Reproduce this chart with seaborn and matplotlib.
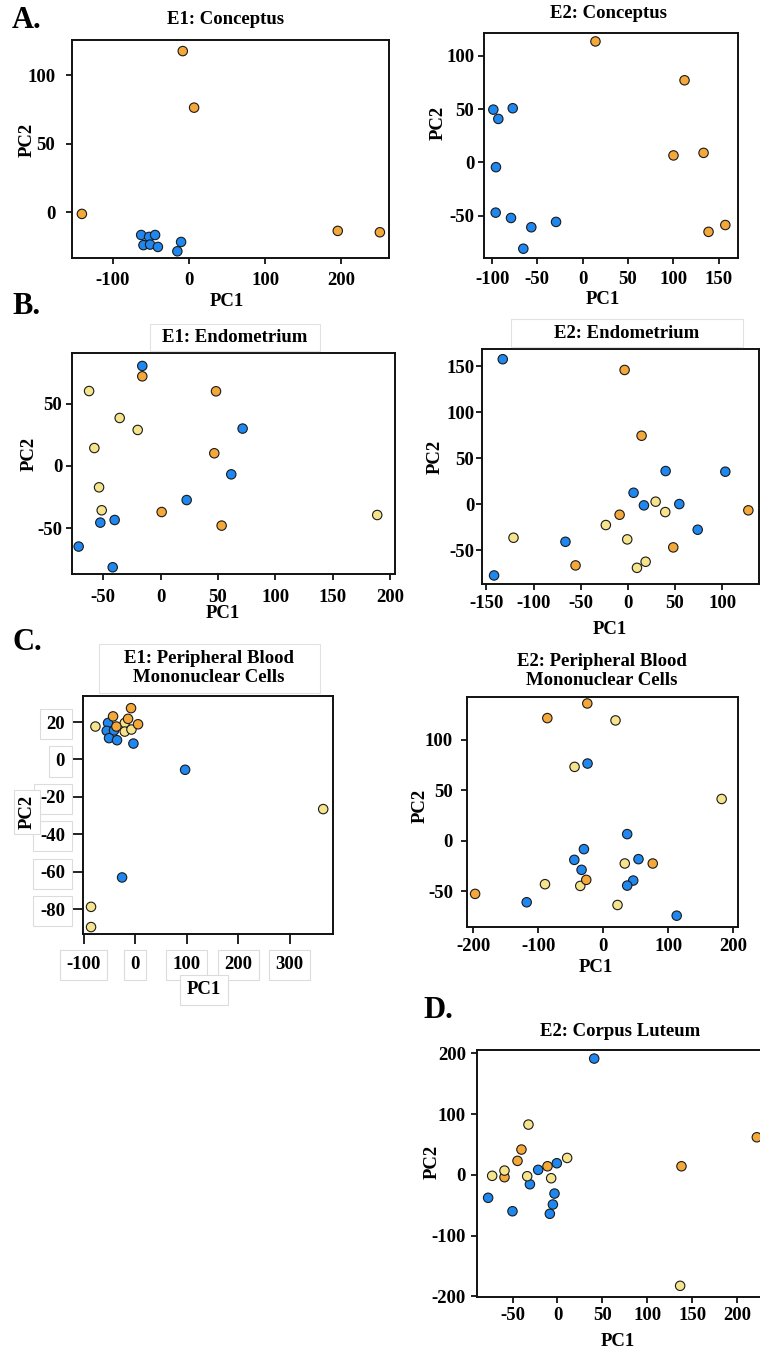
import pandas as pd
import matplotlib.pyplot as plt
from matplotlib.patches import Rectangle
import seaborn as sns

# Figure size in pixels (saved at dpi 100)
W, H = 760, 1354

# ---- data (PC1 / PC2 scores, group per sample) ----
# G1 = blue, G2 = pale yellow, G3 = orange

# A. E1: Conceptus
A1_PC1 = [-63, -52.6, -44.7, -60, -51.3, -41, -10.5, -15.4,
          -8.3, 6.6, -141, 195.6, 251]
A1_PC2 = [-16.6, -18, -16.6, -24, -23.6, -25.3, -21.7, -28.5,
          117.7, 76.4, -1.2, -13.6, -14.6]
A1_GRP = ['G1', 'G1', 'G1', 'G1', 'G1', 'G1', 'G1', 'G1',
          'G3', 'G3', 'G3', 'G3', 'G3']

# A. E2: Conceptus
A2_PC1 = [-98.6, -93.1, -77.2, -95.7, -96, -79.1, -56.7, -29.4, -65.5,
          14.1, 112.4, 100.2, 133.4, 138.9, 157.4]
A2_PC2 = [49.5, 40.8, 50.8, -4.4, -47, -52, -60.7, -55.7, -80.8,
          113.4, 77, 6.6, 9, -65, -58.6]
A2_GRP = ['G1', 'G1', 'G1', 'G1', 'G1', 'G1', 'G1', 'G1', 'G1',
          'G3', 'G3', 'G3', 'G3', 'G3', 'G3']

# B. E1: Endometrium
B1_PC1 = [-16, 71.5, 61.6, 22.7, -40.1, -52.6, -71.5, -41.8,
          -62.4, -35.7, -20, -57.8, -53.7, -51.4, 188.9,
          -16, 48.3, 46.8, 0.9, 53.2]
B1_PC2 = [80.2, 30, -6.7, -27.3, -43.3, -45.4, -64.6, -81.2,
          60.1, 38.5, 28.9, 14.4, -17.1, -35.5, -39.3,
          71.9, 59.9, 10.2, -36.9, -47.8]
B1_GRP = ['G1', 'G1', 'G1', 'G1', 'G1', 'G1', 'G1', 'G1',
          'G2', 'G2', 'G2', 'G2', 'G2', 'G2', 'G2',
          'G3', 'G3', 'G3', 'G3', 'G3']

# B. E2: Endometrium
B2_PC1 = [-132.7, -141.9, -66.2, 6, 17, 40, 54.5, 74, 103.3,
          -121.3, -23.4, -0.7, 29.4, 39.6, 9.6, 18.8,
          -3.5, 14.5, -8.8, -55.5, 48.1, 127.7]
B2_PC2 = [157.8, -77.3, -40.7, 12.6, -1.1, 36.2, 0.3, -27.6, 35.5,
          -36.3, -22.5, -38.1, 2.9, -8.4, -69, -62.4,
          146.1, 74.6, -11.3, -66.4, -46.8, -6.5]
B2_GRP = ['G1', 'G1', 'G1', 'G1', 'G1', 'G1', 'G1', 'G1', 'G1',
          'G2', 'G2', 'G2', 'G2', 'G2', 'G2', 'G2',
          'G3', 'G3', 'G3', 'G3', 'G3', 'G3']

# C. E1: PBMC
C1_PC1 = [-52.4, -55, -40.8, -50.5, -35, -3.2, 97.1, -25.2,
          -76.9, -20, -20, -7, 365, -85.4, -85.4,
          -42.7, -36.2, -7.8, -13.6, 5.8]
C1_PC2 = [19.5, 15.3, 15.5, 11.4, 10.3, 8.5, -5.5, -63,
          17.6, 19.5, 14.9, 16, -26.5, -78.7, -89.5,
          23, 17.6, 27.4, 21.7, 18.8]
C1_GRP = ['G1', 'G1', 'G1', 'G1', 'G1', 'G1', 'G1', 'G1',
          'G2', 'G2', 'G2', 'G2', 'G2', 'G2', 'G2',
          'G3', 'G3', 'G3', 'G3', 'G3']

# C. E2: PBMC
C2_PC1 = [-24.2, 36.9, -29.8, -44.6, -33.4, 54.3, 46.2, 36.9, -118, 113.2,
          18.9, -44.2, 182.5, -89.8, -35.4, 33.2, 22,
          -24.6, -86.2, -197.5, 76.3, -26.2]
C2_PC2 = [76.5, 6.6, -8.3, -18.9, -28.8, -18.2, -39.4, -44.4, -60.9, -74.2,
          119.2, 73.2, 41.4, -43, -44.7, -22.5, -63.6,
          136, 121.5, -52.6, -22.5, -38.7]
C2_GRP = ['G1', 'G1', 'G1', 'G1', 'G1', 'G1', 'G1', 'G1', 'G1', 'G1',
          'G2', 'G2', 'G2', 'G2', 'G2', 'G2', 'G2',
          'G3', 'G3', 'G3', 'G3', 'G3']

# D. E2: Corpus Luteum
D_PC1 = [40.9, -77.2, -50.1, -30.7, -21.5, -0.7, -3.3, -5.1, -8.5,
         222, 138.1, -40.1, -44.5, -11.1, -59,
         -32.3, 10.8, -59, -72.7, -33.7, -7, 136.6]
D_PC2 = [191.3, -37.8, -59.9, -15.5, 8.2, 19.1, -30.8, -48.8, -64.1,
         61.8, 14.1, 41.6, 23, 14.1, -3.9,
         82.7, 27.8, 7, -1.6, -2.3, -5.6, -182.6]
D_GRP = ['G1', 'G1', 'G1', 'G1', 'G1', 'G1', 'G1', 'G1', 'G1',
         'G3', 'G3', 'G3', 'G3', 'G3', 'G3',
         'G2', 'G2', 'G2', 'G2', 'G2', 'G2', 'G2']

PAL = {'G1': '#1E88F0', 'G2': '#F6E48C', 'G3': '#F4A83A'}

sns.set_style('ticks')
plt.rcParams['font.family'] = ['Liberation Serif', 'DejaVu Serif']
plt.rcParams['font.weight'] = 'bold'
plt.rcParams['axes.labelweight'] = 'bold'
plt.rcParams['axes.unicode_minus'] = False
plt.rcParams['text.color'] = 'black'
plt.rcParams['axes.labelcolor'] = 'black'
plt.rcParams['xtick.labelcolor'] = 'black'
plt.rcParams['ytick.labelcolor'] = 'black'

FS = 13.5
fig = plt.figure(figsize=(W / 100, H / 100), dpi=100)


def fx(px):
    return px / W


def fy(py):
    return 1 - py / H


def panel(rect, pc1, pc2, grp, xlim, ylim, xticks, yticks,
          xpad=4, ypad=3, tlen=4, xl=None, yl=None):
    l, t, r, b = rect
    ax = fig.add_axes([l / W, 1 - b / H, (r - l) / W, (b - t) / H])
    df = pd.DataFrame({'PC1': pc1, 'PC2': pc2, 'Group': grp})
    sns.scatterplot(data=df, x='PC1', y='PC2', hue='Group', palette=PAL,
                    s=46, edgecolor='#1a1a1a', linewidth=0.8, legend=False,
                    ax=ax, zorder=3, clip_on=False)
    ax.set_xlim(xlim)
    ax.set_ylim(ylim)
    ax.set_xticks(xticks)
    ax.set_yticks(yticks)
    ax.tick_params(direction='out', length=tlen, width=1.3,
                   labelsize=FS, color='#111111', labelcolor='black')
    ax.tick_params(axis='x', pad=xpad)
    ax.tick_params(axis='y', pad=ypad)
    for s in ax.spines.values():
        s.set_visible(True)
        s.set_linewidth(1.4)
        s.set_color('#111111')
    # axis labels placed at pixel positions from the reference
    ax.set_xlabel('PC1', fontsize=FS, fontweight='bold', color='black')
    ax.set_ylabel('PC2', fontsize=FS, fontweight='bold', color='black')
    ax.xaxis.set_label_coords((xl[0] - l) / (r - l), (b - xl[1]) / (b - t))
    ax.yaxis.set_label_coords((yl[0] - l) / (r - l), (b - yl[1]) / (b - t))
    ax.xaxis.label.set_va('center')
    ax.yaxis.label.set_va('center')
    return ax


def title(x, y, txt):
    fig.text(fx(x), fy(y), txt, ha='center', va='center', fontsize=FS,
             fontweight='bold', linespacing=1.12, zorder=5)


def letter(x, y, txt):
    fig.text(fx(x), fy(y), txt, ha='left', va='center', fontsize=22,
             fontweight='bold')


def frame(l, t, r, b):
    fig.patches.append(Rectangle((fx(l), fy(b)), (r - l) / W, (b - t) / H,
                                 transform=fig.transFigure, fc='white',
                                 ec='#e2e2e2', lw=0.8, zorder=1))


# A
letter(12, 20, 'A.')
title(226, 20, 'E1: Conceptus')
panel((72, 40, 389, 258), A1_PC1, A1_PC2, A1_GRP,
      (-154, 263), (-33.4, 125.8), [-100, 0, 100, 200], [0, 50, 100],
      xpad=6, ypad=8, xl=(227, 301), yl=(27, 140))

title(608, 14, 'E2: Conceptus')
panel((484, 33, 738, 258), A2_PC1, A2_PC2, A2_GRP,
      (-108.9, 171.4), (-89.5, 121.3), [-100, -50, 0, 50, 100, 150],
      [-50, 0, 50, 100], xpad=5, ypad=3, xl=(603, 300), yl=(438, 123))

# B
letter(12, 306, 'B.')
frame(150, 324, 320, 351)
title(235, 338, 'E1: Endometrium')
panel((72, 353, 395, 574), B1_PC1, B1_PC2, B1_GRP,
      (-77.3, 204.4), (-86.6, 90.6), [-50, 0, 50, 100, 150, 200],
      [-50, 0, 50], xpad=7, ypad=3, xl=(223, 613), yl=(29, 454))

frame(511, 319, 743, 347)
title(627, 334, 'E2: Endometrium')
panel((482, 349, 759, 584), B2_PC1, B2_PC2, B2_GRP,
      (-154.7, 139), (-86.6, 168.9), [-150, -100, -50, 0, 50, 100],
      [-50, 0, 50, 100, 150], xpad=4, ypad=1.5, xl=(610, 629), yl=(435, 457))

# C
letter(12, 642, 'C.')
frame(99, 644, 320, 693)
title(209, 668, 'E1: Peripheral Blood\nMononuclear Cells')
ax_c1 = panel((83, 696, 333, 934), C1_PC1, C1_PC2, C1_GRP,
              (-101, 384), (-93.2, 33.9), [-100, 0, 100, 200, 300],
              [-80, -60, -40, -20, 0, 20], xpad=9, ypad=6, tlen=7,
              xl=(204, 990), yl=(27, 812))
box = dict(boxstyle='square,pad=0.35', fc='white', ec='#dcdcdc', lw=0.8)
plt.setp(ax_c1.get_xticklabels(), bbox=box)
plt.setp(ax_c1.get_yticklabels(), bbox=box)
ax_c1.xaxis.label.set_bbox(box)
ax_c1.yaxis.label.set_bbox(dict(boxstyle='square,pad=0.25', fc='white',
                                ec='#dcdcdc', lw=0.8))

title(602, 671, 'E2: Peripheral Blood\nMononuclear Cells')
panel((467, 697, 738, 927), C2_PC1, C2_PC2, C2_GRP,
      (-210, 207.7), (-85.4, 142.4), [-200, -100, 0, 100, 200],
      [-50, 0, 50, 100], xpad=4, ypad=6, xl=(596, 967), yl=(420, 806))

# D
letter(423, 1011, 'D.')
title(620, 1031, 'E2: Corpus Luteum')
panel((477, 1050, 773, 1297), D_PC1, D_PC2, D_GRP,
      (-89.6, 240), (-201, 205.4), [-50, 0, 50, 100, 150, 200],
      [-200, -100, 0, 100, 200], xpad=3, ypad=4, xl=(618, 1341), yl=(432, 1162))

fig.savefig('out.png', dpi=100)
